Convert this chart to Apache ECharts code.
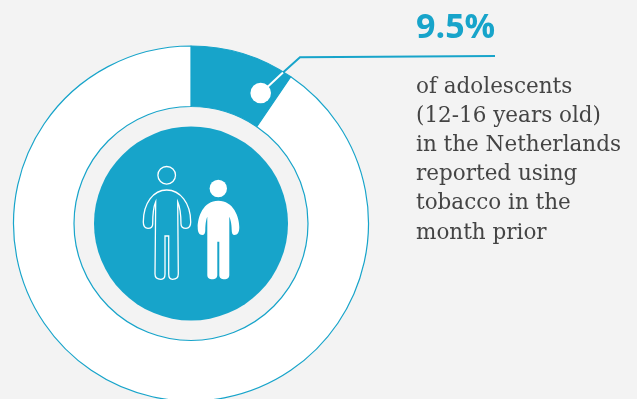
<!DOCTYPE html>
<html>
<head>
<meta charset="utf-8">
<style>html,body{margin:0;padding:0;background:#f3f3f3}#c{width:637px;height:399px}</style>
<script src="https://cdn.jsdelivr.net/npm/echarts@6/dist/echarts.min.js"></script>
</head>
<body>
<div id="c"></div>
<script>
// Share of adolescents reporting tobacco use
const categories = ['Used tobacco', 'Did not use tobacco'];
const shareValues = [9.5, 90.5];
const headline = '9.5%';
const captionLines = [
  'of adolescents',
  '(12-16 years old)',
  'in the Netherlands',
  'reported using',
  'tobacco in the',
  'month prior'
];

const TEAL = '#17a4ca';
const chart = echarts.init(document.getElementById('c'));

const centre = [191, 223.5];

// Outlined and solid figures inside the central disc
const outlinedFigure = 'M166.7 190 C180 190 190.7 203 190.7 222 C190.7 226 189 228.3 186 228.3 C183 228.3 181 227 181 224 C181 214 179.5 206 177.7 201.7 L178.3 274 C178.3 277.5 176 279.3 172.5 279.3 C170 279.3 168.7 277.5 168.7 274 L168.7 236 L165 236 L165 274 C165 277.5 163.5 279.3 161 279.3 C157.5 279.3 155 277.5 155 274 L155.7 201.7 C153.8 206 152.7 214 152.7 224 C152.7 227 150.5 228.3 148 228.3 C145 228.3 143.3 226 143.3 222 C143.3 203 153.5 190 166.7 190 Z';
const solidFigure = 'M218.3 200.7 C233.3 200.7 239.3 216.7 239.3 227.3 C239.3 232.5 237.5 235 234.5 235 C232.5 235 231.7 233 231.7 230 C231.7 224 230.5 219 229.3 216.7 L229.3 275 C229.3 278 227 279.3 224.5 279.3 C221.5 279.3 219.3 278 219.3 275 L219.3 241.7 L217.3 241.7 L217.3 275 C217.3 278 215 279.3 212.3 279.3 C209.5 279.3 207.3 278 207.3 275 L207.3 216.7 C206.2 219 205.3 224 205.3 230 C205.3 233 204.3 235 202.3 235 C199.3 235 197.7 232.5 197.7 227.3 C197.7 216.7 203.3 200.7 218.3 200.7 Z';

function renderFigures() {
  return {
    type: 'group',
    children: [
      { type: 'path',
        shape: { pathData: outlinedFigure, x: 143.3, y: 190, width: 47.4, height: 89.3, layout: 'cover' },
        style: { fill: 'none', stroke: '#ffffff', lineWidth: 1.3 } },
      { type: 'path',
        shape: { pathData: solidFigure, x: 197.7, y: 200.7, width: 41.6, height: 78.6, layout: 'cover' },
        style: { fill: '#ffffff' } }
    ]
  };
}

const captionElements = captionLines.map((line, i) => ({
  type: 'text',
  style: {
    x: 416,
    y: 87 + i * 29.2,
    text: line,
    fill: '#444444',
    font: '21.5px "DejaVu Serif", serif',
    textVerticalAlign: 'middle',
    textBaseline: 'middle'
  }
}));

chart.setOption({
  animation: false,
  backgroundColor: '#f3f3f3',
  series: [
    {
      type: 'pie',
      silent: true,
      center: centre,
      radius: [117, 177.5],
      startAngle: 90,
      clockwise: true,
      label: { show: false },
      labelLine: { show: false },
      data: categories.map((name, i) => ({
        name,
        value: shareValues[i],
        itemStyle: {
          color: i === 0 ? TEAL : '#ffffff',
          borderColor: TEAL,
          borderWidth: 1.2
        }
      }))
    },
    {
      type: 'pie',
      silent: true,
      center: centre,
      radius: [0, 97],
      label: { show: false },
      labelLine: { show: false },
      data: [{ name: 'disc', value: 1, itemStyle: { color: TEAL } }]
    },
    {
      type: 'custom',
      silent: true,
      coordinateSystem: 'none',
      z: 5,
      data: [0],
      renderItem: renderFigures
    }
  ],
  graphic: [
    // Callout from the highlighted slice to the headline
    { type: 'polyline', z: 10, shape: { points: [[283, 72.5], [300, 57.3], [495, 56]] },
      style: { stroke: TEAL, lineWidth: 2, fill: null } },
    { type: 'line', z: 10, shape: { x1: 283, y1: 72.5, x2: 261, y2: 93 },
      style: { stroke: '#ffffff', lineWidth: 2 } },
    { type: 'circle', z: 10, shape: { cx: 260.7, cy: 93, r: 10.3 }, style: { fill: '#ffffff' } },
    // Heads of the two figures
    { type: 'circle', z: 10, shape: { cx: 166.7, cy: 175.3, r: 8.8 },
      style: { fill: null, stroke: '#ffffff', lineWidth: 1.3 } },
    { type: 'circle', z: 10, shape: { cx: 218.3, cy: 188.5, r: 8.7 }, style: { fill: '#ffffff' } },
    // Headline and caption
    { type: 'text', z: 10, style: {
        x: 416, y: 28.5, text: headline, fill: TEAL,
        font: 'bold 34px "Open Sans", sans-serif',
        textBaseline: 'middle', textVerticalAlign: 'middle'
      } },
    ...captionElements
  ]
});
</script>
</body>
</html>
